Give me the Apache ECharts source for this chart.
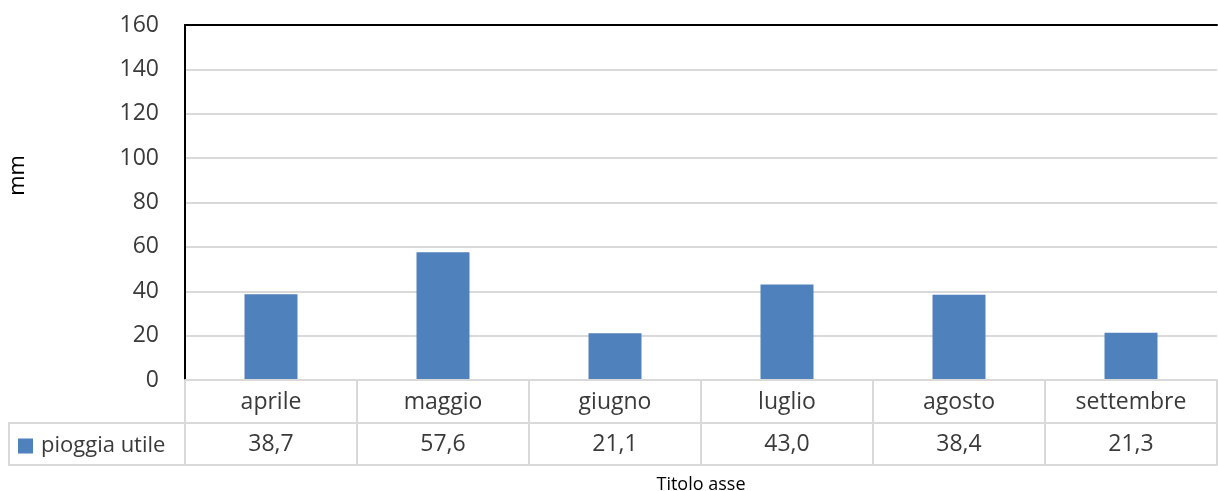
<!DOCTYPE html>
<html>
<head>
<meta charset="utf-8">
<script src="https://cdn.jsdelivr.net/npm/echarts@6/dist/echarts.min.js"></script>
<style>
  html, body { margin: 0; padding: 0; background: #fff; }
  #main { width: 1218px; height: 491px; }
</style>
</head>
<body>
<div id="main"></div>
<script>
var mesi = ["aprile", "maggio", "giugno", "luglio", "agosto", "settembre"];
var pioggia = [38.7, 57.6, 21.1, 43.0, 38.4, 21.3];
var yTicks = [0, 20, 40, 60, 80, 100, 120, 140, 160];

var chart = echarts.init(document.getElementById("main"));
var font = "'Open Sans', sans-serif";
var grigio = "#d9d9d9";
var testo = "#3a3a3a";

// valori in formato italiano per la riga della tabella dati
var valoriTesto = pioggia.map(function (v) { return v.toFixed(1).replace(".", ","); });

var option = {
    animation: false,
    textStyle: { fontFamily: font },
    grid: { left: 185, right: 1, top: 25, bottom: 111, outerBoundsMode: "none", containLabel: false },
    legend: {
        data: ["pioggia utile"],
        left: 13,
        top: 430,
        icon: "rect",
        itemWidth: 15,
        itemHeight: 15,
        itemGap: 8,
        textStyle: { fontSize: 22, color: testo, fontFamily: font, padding: [0, 0, 0, 3] }
    },
    graphic: [{
        type: "rect",
        shape: { x: 9, y: 423, width: 176, height: 42 },
        style: { fill: "none", stroke: grigio, lineWidth: 2 },
        z: 1
    }],
    xAxis: [{
        type: "category",
        data: mesi,
        position: "bottom",
        axisLine: { lineStyle: { color: grigio, width: 2 } },
        axisTick: { show: true, length: 85, lineStyle: { color: grigio, width: 2 } },
        axisLabel: { fontSize: 23, color: testo, margin: 11 },
        z: 3
    }, {
        type: "category",
        data: valoriTesto,
        position: "bottom",
        offset: 43,
        axisLine: { lineStyle: { color: grigio, width: 2 } },
        axisTick: { show: false },
        axisLabel: { fontSize: 23, color: testo, margin: 10 }
    }, {
        type: "category",
        data: mesi,
        position: "bottom",
        offset: 85,
        name: "Titolo asse",
        nameLocation: "middle",
        nameGap: 11,
        nameTextStyle: { fontSize: 18, color: "#000" },
        axisLine: { lineStyle: { color: grigio, width: 2 } },
        axisTick: { show: false },
        axisLabel: { show: false }
    }, {
        type: "category",
        data: mesi,
        position: "top",
        axisLine: { lineStyle: { color: "#000", width: 2 } },
        axisTick: { show: false },
        axisLabel: { show: false }
    }],
    yAxis: {
        type: "value",
        min: yTicks[0],
        max: yTicks[yTicks.length - 1],
        interval: yTicks[1] - yTicks[0],
        name: "mm",
        nameLocation: "middle",
        nameGap: 156,
        nameRotate: 90,
        nameTextStyle: { fontSize: 22, color: "#000", padding: [0, 0, 0, 54] },
        axisLine: { show: true, lineStyle: { color: "#000", width: 2 } },
        axisTick: { show: false },
        axisLabel: { fontSize: 23, color: testo, margin: 26 },
        splitLine: { lineStyle: { color: grigio, width: 2 } }
    },
    series: [{
        name: "pioggia utile",
        type: "bar",
        xAxisIndex: 0,
        data: pioggia,
        barWidth: 53,
        itemStyle: { color: "#4f81bd" },
        z: 2
    }]
};
chart.setOption(option);
</script>
</body>
</html>
